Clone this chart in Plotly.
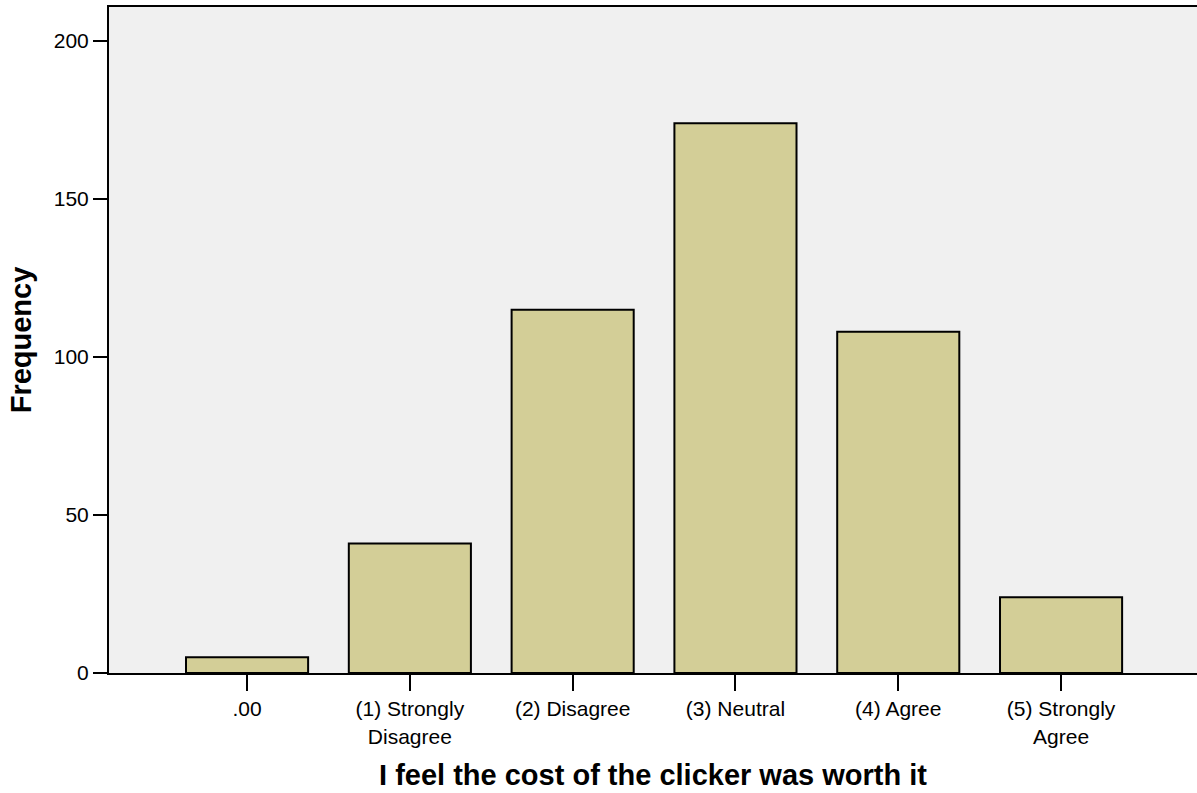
import plotly.graph_objects as go

categories = [".00", "(1) Strongly<br>Disagree", "(2) Disagree", "(3) Neutral",
              "(4) Agree", "(5) Strongly<br>Agree"]
frequency = [5, 41, 115, 174, 108, 24]
y_ticks = [0, 50, 100, 150, 200]

font = "Liberation Sans, Arial, sans-serif"

fig = go.Figure(go.Bar(
    x=list(range(len(categories))),
    y=frequency,
    width=0.75,
    marker=dict(color="#D3CE97", line=dict(color="black", width=2)),
))

fig.update_layout(
    width=1197, height=793,
    margin=dict(l=109, r=0, t=7, b=120),
    paper_bgcolor="white",
    plot_bgcolor="#F0F0F0",
    showlegend=False,
    font=dict(family=font, color="black", size=21),
)

fig.update_xaxes(
    range=[-0.848, 5.835],
    tickmode="array",
    tickvals=list(range(len(categories))),
    ticktext=categories,
    ticks="outside", ticklen=16, tickwidth=2, tickcolor="black",
    showline=True, linecolor="black", linewidth=2, mirror=True,
    showgrid=False, zeroline=False,
    tickfont=dict(size=21),
    title=dict(text="<b>I feel the cost of the clicker was worth it</b>",
               font=dict(size=29), standoff=18),
)
fig.update_yaxes(
    range=[0, 210.8],
    tickvals=y_ticks,
    ticks="outside", ticklen=14, tickwidth=2, tickcolor="black",
    showline=True, linecolor="black", linewidth=2,
    showgrid=False, zeroline=False,
    tickfont=dict(size=21),
    title=dict(text="<b>Frequency</b>", font=dict(size=29), standoff=14),
)

fig.write_html("out.html", config={"displayModeBar": False},
               post_script="document.body.style.margin='0';")
